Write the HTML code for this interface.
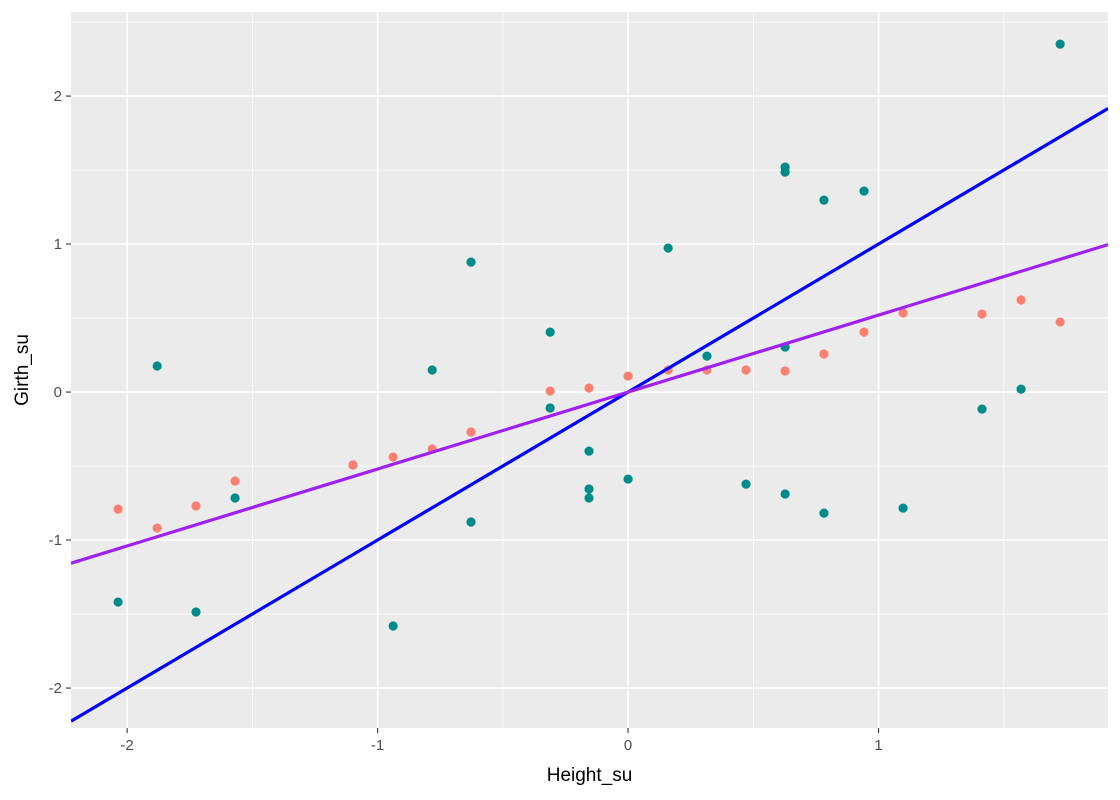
<!DOCTYPE html>
<html><head><meta charset="utf-8"><style>
html,body{margin:0;padding:0;background:#fff;}
svg{display:block;font-family:"Liberation Sans",sans-serif;}
</style></head><body>
<svg id="chart" width="1120" height="800"></svg>
<script>
const teal_x=[-2.036,-1.880,-1.725,-1.569,-1.098,-0.938,-0.782,-0.627,-0.627,-0.311,-0.311,-0.156,-0.156,-0.156,0,0.160,0.315,0.471,0.627,0.627,0.627,0.627,0.782,0.782,0.942,1.098,1.413,1.569,1.725];
const teal_y=[-1.419,0.176,-1.486,-0.716,-0.493,-1.581,0.149,0.878,-0.878,0.405,-0.108,-0.399,-0.655,-0.716,-0.588,0.973,0.243,-0.622,1.520,1.486,0.304,-0.689,1.297,-0.818,1.358,-0.784,-0.115,0.020,2.351];
const salmon_x=[-2.036,-1.880,-1.725,-1.569,-1.098,-0.938,-0.782,-0.627,-0.311,-0.156,0,0.160,0.315,0.471,0.627,0.782,0.942,1.098,1.413,1.569,1.725];
const salmon_y=[-0.791,-0.919,-0.770,-0.601,-0.493,-0.439,-0.385,-0.270,0.007,0.027,0.108,0.149,0.149,0.149,0.142,0.257,0.405,0.534,0.527,0.622,0.473];
const line_slopes=[1,0.52];
const line_colors=["#0000ff","#a020f0"];
const line_names=["identity-line","fit-line"];
const x_ticks=[-2,-1,0,1];
const y_ticks=[-2,-1,0,1,2];

const L=71,R=1108,T=12,B=728;
const xmin=-2.224,xmax=1.916,ymin=-2.27,ymax=2.568;
const sx=v=>L+(v-xmin)/(xmax-xmin)*(R-L);
const sy=v=>B-(v-ymin)/(ymax-ymin)*(B-T);
const NS="http://www.w3.org/2000/svg";
const svg=document.getElementById('chart');
function mk(tag,attrs,parent){const e=document.createElementNS(NS,tag);for(const k in attrs)e.setAttribute(k,attrs[k]);(parent||svg).appendChild(e);return e;}

const bg=mk('rect',{x:L,y:T,width:R-L,height:B-T,fill:'#ebebeb'});


const grid=mk('g',{});


for(let v=-2.5;v<=2;v+=1){mk('line',{x1:sx(v),x2:sx(v),y1:T,y2:B,stroke:'#fff','stroke-width':0.8},grid);}
for(let v=-2.5;v<=2.5;v+=1){if(sy(v)>T&&sy(v)<B)mk('line',{x1:L,x2:R,y1:sy(v),y2:sy(v),stroke:'#fff','stroke-width':0.8},grid);}
x_ticks.forEach(v=>mk('line',{x1:sx(v),x2:sx(v),y1:T,y2:B,stroke:'#fff','stroke-width':1.6},grid));
y_ticks.forEach(v=>mk('line',{x1:L,x2:R,y1:sy(v),y2:sy(v),stroke:'#fff','stroke-width':1.6},grid));

const pts=mk('g',{});


teal_x.forEach((x,i)=>{const c=mk('circle',{cx:sx(x),cy:sy(teal_y[i]),r:4.6,fill:'#008b8b'},pts);

});
salmon_x.forEach((x,i)=>{const c=mk('circle',{cx:sx(x),cy:sy(salmon_y[i]),r:4.6,fill:'#fa8072'},pts);

});

line_slopes.forEach((m,i)=>{
  const defs=mk('clipPath',{id:'cp'+i});mk('rect',{x:L,y:T,width:R-L,height:B-T},defs);
  const ln=mk('line',{x1:sx(xmin),y1:sy(m*xmin),x2:sx(xmax),y2:sy(m*xmax),stroke:line_colors[i],'stroke-width':3.2,'clip-path':'url(#cp'+i+')'});
  
  
});

x_ticks.forEach(v=>{mk('line',{x1:sx(v),x2:sx(v),y1:B,y2:B+5,stroke:'#333','stroke-width':1.1});
  const t=mk('text',{x:sx(v),y:B+22,'text-anchor':'middle','font-size':15,fill:'#4d4d4d'});t.textContent=v;
  
  });
y_ticks.forEach(v=>{mk('line',{x1:L-5,x2:L,y1:sy(v),y2:sy(v),stroke:'#333','stroke-width':1.1});
  const t=mk('text',{x:L-9,y:sy(v)+5,'text-anchor':'end','font-size':15,fill:'#4d4d4d'});t.textContent=v;
  
  });

const xt=mk('text',{x:(L+R)/2,y:781,'text-anchor':'middle','font-size':19,fill:'#000'});xt.textContent='Height_su';


const yt=mk('text',{x:0,y:0,'text-anchor':'middle','font-size':19,fill:'#000',transform:`translate(28,${(T+B)/2}) rotate(-90)`});yt.textContent='Girth_su';


</script>
</body></html>
